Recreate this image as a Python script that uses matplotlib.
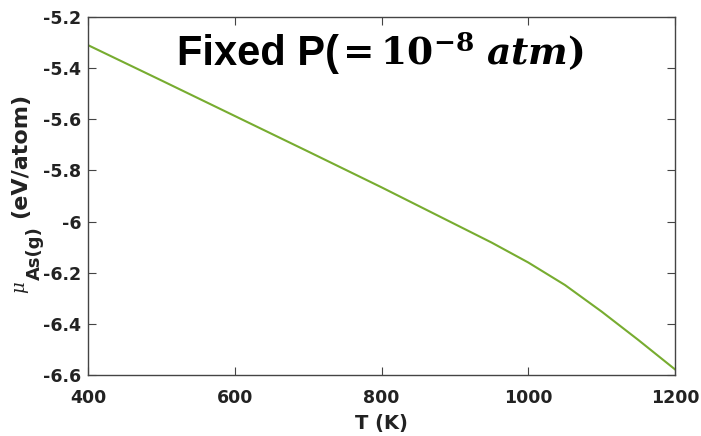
import matplotlib
matplotlib.use("Agg")
import matplotlib.pyplot as plt
import numpy as np

T = [400, 500, 600, 700, 800, 900, 950, 1000, 1050, 1100, 1150, 1200]
mu = [-5.310, -5.448, -5.587, -5.726, -5.866, -6.010, -6.082, -6.160, -6.248, -6.352, -6.463, -6.578]
xticks = [400, 600, 800, 1000, 1200]
yticks = [-5.2, -5.4, -5.6, -5.8, -6.0, -6.2, -6.4, -6.6]
yticklabels = ["-5.2", "-5.4", "-5.6", "-5.8", "-6", "-6.2", "-6.4", "-6.6"]

plt.rcParams['font.family'] = ['DejaVu Sans']
plt.rcParams['mathtext.fontset'] = 'custom'
plt.rcParams['mathtext.rm'] = 'DejaVu Serif:bold'
plt.rcParams['mathtext.bf'] = 'DejaVu Serif:bold'
plt.rcParams['mathtext.it'] = 'DejaVu Serif:italic'
plt.rcParams['mathtext.bfit'] = 'DejaVu Serif:italic:bold'
plt.rcParams['mathtext.sf'] = 'DejaVu Sans:bold'

W, H = 701, 436
fig = plt.figure(figsize=(7.01, 4.36), dpi=100)
ax = fig.add_axes([88/W, 1-375/H, (675-88)/W, (375-17)/H])
ax.plot(T, mu, color='#77AC30', lw=1.5)
ax.set_xlim(400, 1200)
ax.set_ylim(-6.6, -5.2)
ax.set_xticks(xticks)
ax.set_yticks(yticks)
ax.set_yticklabels(yticklabels)
ax.tick_params(direction='in', length=6, width=0.8, color='#444444', top=True, right=True,
               labelsize=12.5)
ax.tick_params(axis='x', pad=10)
ax.tick_params(axis='y', pad=5)
for lab in ax.get_xticklabels() + ax.get_yticklabels():
    lab.set_fontweight('bold')
    lab.set_color('#222222')
for s in ax.spines.values():
    s.set_color('#444444')
    s.set_linewidth(1.0)

ax.set_xlabel('T (K)', fontsize=14, fontweight='bold', color='#222222', labelpad=5)

# y label built from pieces
fig.text(20/W, 1-155/H, '(eV/atom)', rotation=90, ha='center', va='center',
         fontsize=16, fontweight='bold', color='#222222')
fig.text(35/W, 1-253/H, 'As(g)', rotation=90, ha='center', va='center',
         fontsize=13, fontweight='bold', color='#222222')
fig.text(22/W, 1-288/H, r'$\mu$', rotation=90, ha='center', va='center',
         fontsize=13, color='#222222')

ax.text(177/W, 1-65/H, 'Fixed P(', transform=fig.transFigure,
        fontsize=30, fontweight='bold', color='black', ha='left', va='baseline',
        family='Liberation Sans')
ax.text(335/W, 1-65/H, r'$=\mathbf{10^{-8}}\ \mathbfit{atm}\mathbf{)}$', transform=fig.transFigure,
        fontsize=27, color='black', ha='left', va='baseline')

fig.savefig('out.png', dpi=100)
